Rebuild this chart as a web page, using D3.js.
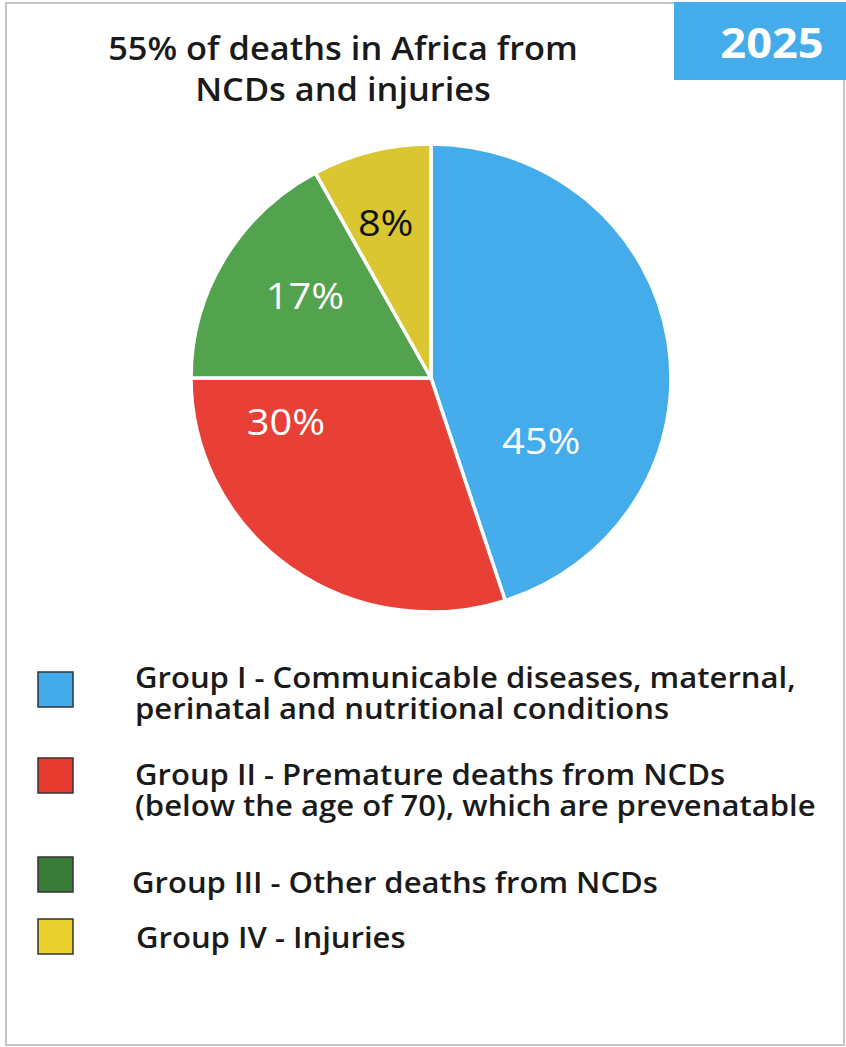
<!DOCTYPE html>
<html>
<head>
<meta charset="utf-8">
<script src="https://cdn.jsdelivr.net/npm/d3@7"></script>
<style>
  html, body { margin: 0; padding: 0; background: #fff; }
  svg { display: block; font-family: "Open Sans", "Noto Sans", sans-serif; }
</style>
</head>
<body>
<script>
// Share of deaths by cause group, Africa 2025
const groups = ["Group I", "Group II", "Group III", "Group IV"];
const shares = [45, 30, 17, 8];
const legendLines = [
  ["Group I - Communicable diseases, maternal,", "perinatal and nutritional conditions"],
  ["Group II - Premature deaths from NCDs", "(below the age of 70), which are prevenatable"],
  ["Group III - Other deaths from NCDs"],
  ["Group IV - Injuries"]
];
const titleLines = ["55% of deaths in Africa from", "NCDs and injuries"];
const yearLabel = "2025";

// Styling
const sliceColors = ["#45acec", "#e84036", "#53a24d", "#d9c630"];
const legendColors = ["#42a9ea", "#e83c31", "#3b7b3a", "#ead12f"];
const labelColors = ["#ffffff", "#ffffff", "#ffffff", "#111111"];
// label offsets (px) from each slice's centroid
const labelNudge = [[-38, 86], [-57, -75], [3, -8], [-8, -14]];
const legendBoxY = [672, 758, 857, 919];
const legendTextX = [135, 135, 132, 136];
const legendTextY = [688, 785, 893, 948];
const stretch = 1.075; // lettering is set slightly wide

const W = 846, H = 1047;
const svg = d3.select("body").append("svg").attr("width", W).attr("height", H);

function wideText(sel, x, y, k = stretch) {
  return sel.attr("transform", (d, i) => `translate(${x(d, i)},${y(d, i)}) scale(${k},1)`);
}

// Frame
svg.append("rect")
  .attr("x", 6).attr("y", 3).attr("width", 838).attr("height", 1042)
  .attr("fill", "#fff").attr("stroke", "#c4c4c4").attr("stroke-width", 2);

// Year badge
svg.append("rect")
  .attr("x", 674).attr("y", 2).attr("width", 172).attr("height", 78)
  .attr("fill", "#45acec");
wideText(svg.append("text").datum(yearLabel), () => 772, () => 58)
  .attr("text-anchor", "middle")
  .attr("fill", "#fff").attr("font-size", 42).attr("font-weight", 700)
  .text(d => d);

// Title
wideText(svg.append("g").selectAll("text").data(titleLines).join("text"),
    () => 343, (d, i) => 60 + i * 41)
  .attr("text-anchor", "middle")
  .attr("fill", "#1a1a1a").attr("font-size", 32).attr("font-weight", 600)
  .text(d => d);

// Pie
const cx = 431, cy = 378, R = 240, squash = 0.975;
const pie = d3.pie().sort(null).value(d => d);
const arcs = pie(shares);
const arc = d3.arc().innerRadius(0).outerRadius(R);
const labelArc = d3.arc().innerRadius(0).outerRadius(300);

const pieG = svg.append("g").attr("transform", `translate(${cx},${cy}) scale(1,${squash})`);
pieG.selectAll("path").data(arcs).join("path")
  .attr("d", arc)
  .attr("fill", (d, i) => sliceColors[i])
  .attr("stroke", "#fff").attr("stroke-width", 3.5).attr("stroke-linejoin", "round");

const labelG = svg.append("g").attr("transform", `translate(${cx},${cy})`);
wideText(labelG.selectAll("text").data(arcs).join("text"),
    (d, i) => labelArc.centroid(d)[0] + labelNudge[i][0],
    (d, i) => labelArc.centroid(d)[1] * squash + labelNudge[i][1])
  .attr("text-anchor", "middle").attr("dy", "0.36em")
  .attr("fill", (d, i) => labelColors[i])
  .attr("font-size", 37).attr("font-weight", 400)
  .text(d => d.data + "%");

// Legend
const legend = svg.append("g");
legend.selectAll("rect").data(groups).join("rect")
  .attr("x", 38).attr("y", (d, i) => legendBoxY[i]).attr("width", 35).attr("height", 35)
  .attr("fill", (d, i) => legendColors[i])
  .attr("stroke", "#333").attr("stroke-width", 1.5);
legend.selectAll("g").data(groups).join("g").each(function (d, i) {
  wideText(d3.select(this).selectAll("text").data(legendLines[i]).join("text"),
      () => legendTextX[i], (t, j) => legendTextY[i] + j * 31, 1.09)
    .attr("fill", "#1a1a1a").attr("font-size", 28.5).attr("font-weight", 600)
    .text(t => t);
});
</script>
</body>
</html>
